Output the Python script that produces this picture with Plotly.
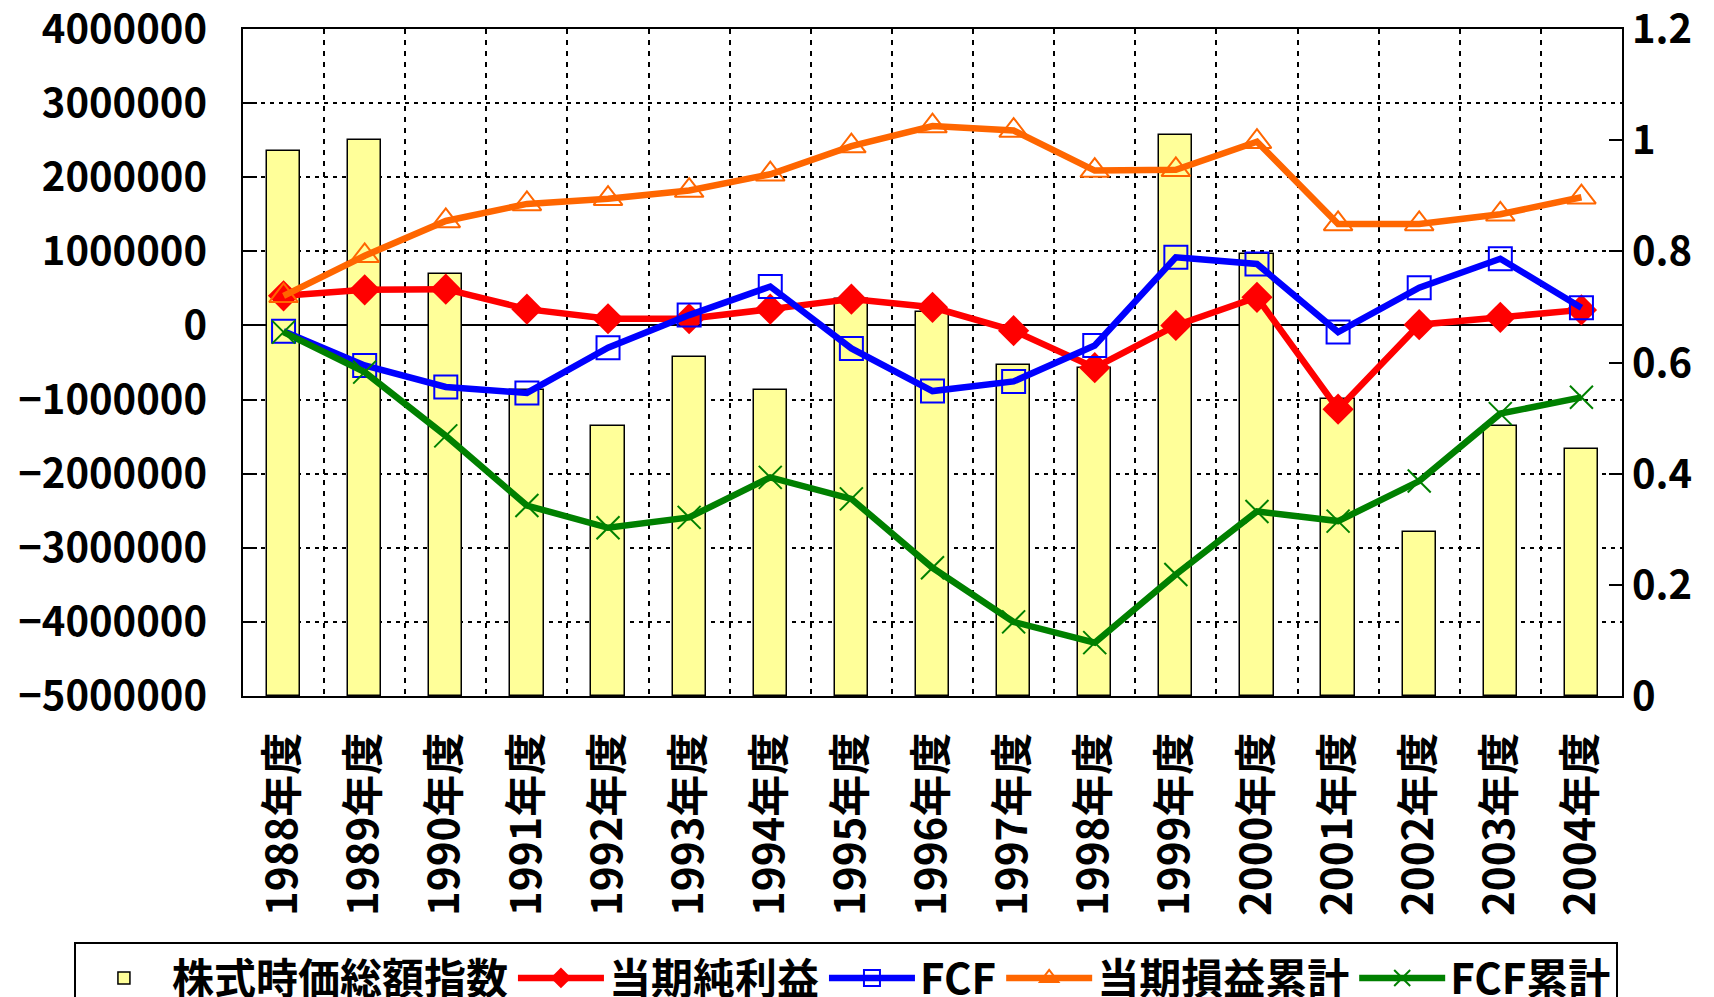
import plotly.graph_objects as go

# 年度
years = ["1988年度", "1989年度", "1990年度", "1991年度", "1992年度", "1993年度",
         "1994年度", "1995年度", "1996年度", "1997年度", "1998年度", "1999年度",
         "2000年度", "2001年度", "2002年度", "2003年度", "2004年度"]

# 株式時価総額指数 (right axis)
stock_index = [0.98, 1.00, 0.76, 0.55, 0.485, 0.61, 0.55, 0.715, 0.69, 0.595,
               0.59, 1.01, 0.795, 0.535, 0.295, 0.485, 0.445]

# left axis series
net_income = [400000, 480000, 490000, 220000, 90000, 90000, 220000, 355000, 245000,
              -70000, -570000, 0, 380000, -1130000, 10000, 110000, 210000]
fcf = [-80000, -540000, -830000, -910000, -300000, 140000, 525000, -310000, -885000,
       -755000, -270000, 920000, 830000, -90000, 510000, 900000, 240000]
cum_income = [400000, 940000, 1410000, 1640000, 1710000, 1820000, 2040000, 2420000,
              2690000, 2630000, 2090000, 2100000, 2480000, 1370000, 1370000, 1500000, 1730000]
cum_fcf = [-90000, -630000, -1490000, -2430000, -2730000, -2590000, -2050000, -2340000,
           -3270000, -4000000, -4280000, -3360000, -2510000, -2640000, -2100000, -1190000, -970000]

FONT = "Noto Sans CJK JP"

fig = go.Figure()

# bars on the primary axis (drawn first, below the lines)
fig.add_trace(go.Bar(x=years, y=stock_index, name="株式時価総額指数", width=0.41,
                     marker=dict(color="#FFFF99", line=dict(color="black", width=1.5)),
                     yaxis="y"))

lines = [
    ("当期純利益", net_income, "#FF0000", dict(symbol="diamond", size=24)),
    ("FCF", fcf, "#0000FF", dict(symbol="square-open", size=23, line=dict(width=2))),
    ("当期損益累計", cum_income, "#FF6600", dict(symbol="triangle-up-open", size=25, line=dict(width=2))),
    ("FCF累計", cum_fcf, "#008000", dict(symbol="x-thin-open", size=23, line=dict(width=2))),
]
for name, vals, col, mk in lines:
    mk["color"] = col
    fig.add_trace(go.Scatter(x=years, y=vals, name=name, mode="lines+markers",
                             line=dict(color=col, width=6.5), marker=mk, yaxis="y2"))

fig.update_layout(
    width=1714, height=997,
    margin=dict(l=243, r=92, t=29, b=301, autoexpand=False),
    paper_bgcolor="white", plot_bgcolor="white",
    font=dict(family=FONT, size=40, color="black", weight="bold"),
    bargap=0,
    xaxis=dict(type="category", range=[-0.5, 16.5], tickangle=-90,
               showgrid=True, tickson="boundaries", gridcolor="black", gridwidth=2,
               griddash="5px,6px", ticks="", showline=True, mirror=True,
               linecolor="black", linewidth=2, ticklabelstandoff=18,
               tickfont=dict(family=FONT, size=42, weight="bold")),
    yaxis=dict(side="right", range=[0, 1.2], dtick=0.2, ticks="inside", ticklen=13,
               tickwidth=2, tickcolor="black", showgrid=False, zeroline=False,
               showline=True, linecolor="black", linewidth=2, ticklabelstandoff=0,
               ticklabeloverflow="allow",
               tickfont=dict(family=FONT, size=40, weight="bold")),
    yaxis2=dict(overlaying="y", side="left", range=[-5000000, 4000000], dtick=1000000,
                tickformat="d", ticks="inside", ticklen=14, tickwidth=2, tickcolor="black",
                showgrid=True, gridcolor="black", gridwidth=2, griddash="4px,5px",
                zeroline=True, zerolinecolor="black", zerolinewidth=2,
                showline=True, linecolor="black", linewidth=2, ticklabelstandoff=26,
                ticklabeloverflow="allow",
                tickfont=dict(family=FONT, size=40, weight="bold")),
    legend=dict(orientation="h", x=-0.1226, y=-0.369, xanchor="left", yanchor="top",
                bgcolor="white", bordercolor="black", borderwidth=2, itemwidth=86,
                font=dict(family=FONT, size=42, weight="bold"), traceorder="normal"),
)

# page body has a default 8px margin; drop it so the figure fills the window
fig.write_html("out.html", config={"displayModeBar": False},
               post_script="document.body.style.margin='0';")
